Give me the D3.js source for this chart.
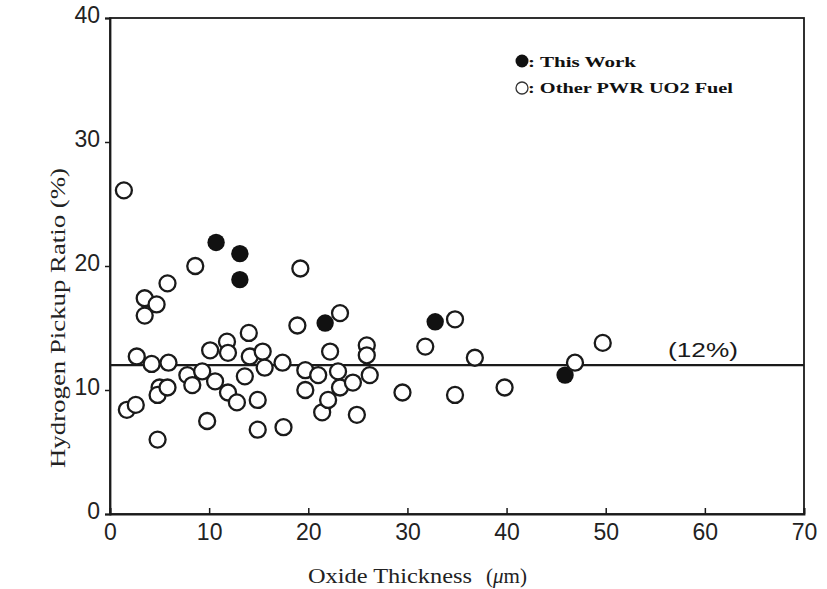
<!DOCTYPE html>
<html><head><meta charset="utf-8">
<script src="https://cdn.jsdelivr.net/npm/d3@7"></script>
<style>body{margin:0;background:#fff}</style>
</head><body>
<script>
const xTicks = [0,10,20,30,40,50,60,70];
const yTicks = [0,10,20,30,40];
const refLine = 12;
const refLabel = "(12%)";
const thisWorkX = [10.7,13.1,13.1,21.7,32.8,45.9];
const thisWorkY = [21.9,21.0,18.9,15.4,15.5,11.2];
const otherX = [1.4,8.6,3.5,4.7,3.5,5.8,2.7,4.2,5.9,1.7,2.6,5.0,4.8,5.8,4.8,7.8,8.3,9.3,10.1,9.8,11.8,11.9,10.6,11.9,12.8,14.0,14.1,13.6,15.4,15.6,14.9,14.9,17.4,17.5,18.9,19.2,19.7,19.7,21.0,21.4,22.2,22.0,23.0,23.2,23.2,24.5,24.9,25.9,25.9,26.2,29.5,31.8,34.8,34.8,36.8,39.8,46.9,49.7];
const otherY = [26.1,20.0,17.4,16.9,16.0,18.6,12.7,12.1,12.2,8.4,8.8,10.2,9.6,10.2,6.0,11.2,10.4,11.5,13.2,7.5,13.9,13.0,10.7,9.8,9.0,14.6,12.7,11.1,13.1,11.8,9.2,6.8,12.2,7.0,15.2,19.8,11.6,10.0,11.2,8.2,13.1,9.2,11.5,16.2,10.2,10.6,8.0,13.6,12.8,11.2,9.8,13.5,9.6,15.7,12.6,10.2,12.2,13.8];
const legendLabels = [": This Work", ": Other PWR UO2 Fuel"];
const xTitle = "Oxide Thickness";
const yTitle = "Hydrogen Pickup Ratio (%)";

const W = 827, H = 589;
const svg = d3.select("body").append("svg").attr("width", W).attr("height", H);
const x = d3.scaleLinear().domain([0,70]).range([110,804]);
const y = d3.scaleLinear().domain([0,40]).range([514,18]);
const ink = "#1a1a1a";
const serif = "Liberation Serif, Times New Roman, serif";
const sans = "Liberation Sans, Arial, sans-serif";

// frame
svg.append("rect").attr("x",110).attr("y",18).attr("width",694).attr("height",496)
  .attr("fill","none").attr("stroke",ink).attr("stroke-width",1.8);

// axes
const xAxis = svg.append("g").attr("transform","translate(0,514)")
  .call(d3.axisBottom(x).tickValues(xTicks).tickSize(-6).tickPadding(12).tickFormat(d3.format("d")));
const yAxis = svg.append("g").attr("transform","translate(110,0)")
  .call(d3.axisLeft(y).tickValues(yTicks).tickSize(5).tickPadding(5).tickFormat(d3.format("d")));
[xAxis,yAxis].forEach(g=>{
  g.select(".domain").attr("stroke",ink).attr("stroke-width",1.8);
  g.selectAll(".tick line").attr("stroke",ink).attr("stroke-width",1.5);
  g.selectAll(".tick text").attr("fill","#222").attr("font-family",sans).attr("font-size",23);
});
xAxis.selectAll(".tick text").attr("dy","0.6em");
yAxis.selectAll(".tick text").attr("dy","0.2em");

// reference line
svg.append("line").attr("x1",x(0)).attr("x2",x(70)).attr("y1",y(refLine)).attr("y2",y(refLine))
  .attr("stroke",ink).attr("stroke-width",2.2);
svg.append("text").attr("x",668).attr("y",357)
  .attr("font-family",sans).attr("font-size",21).attr("fill","#1a1a1a")
  .attr("textLength",70).attr("lengthAdjust","spacingAndGlyphs")
  .text(refLabel);

// points
const tw = d3.range(thisWorkX.length).map(i=>({x:thisWorkX[i],y:thisWorkY[i]}));
const ot = d3.range(otherX.length).map(i=>({x:otherX[i],y:otherY[i]}));
svg.append("g").selectAll("circle").data(tw).join("circle")
  .attr("cx",d=>x(d.x)).attr("cy",d=>y(d.y)).attr("r",8.7).attr("fill","#111");
svg.append("g").selectAll("circle").data(ot).join("circle")
  .attr("cx",d=>x(d.x)).attr("cy",d=>y(d.y)).attr("r",8)
  .attr("fill","#fff").attr("stroke","#1a1a1a").attr("stroke-width",2.3);

// legend
svg.append("circle").attr("cx",522).attr("cy",61).attr("r",6.5).attr("fill","#111");
svg.append("circle").attr("cx",522).attr("cy",88).attr("r",6).attr("fill","#fff").attr("stroke","#333").attr("stroke-width",1.3);
legendLabels.forEach((t,i)=>{
  svg.append("text").attr("x",528).attr("y",67+i*26)
    .attr("font-family",serif).attr("font-weight","bold")
    .attr("font-size",15).attr("fill","#111")
    .attr("textLength", i===0?108:205).attr("lengthAdjust","spacingAndGlyphs")
    .text(t);
});

// axis titles
svg.append("text").attr("x",308).attr("y",583)
  .attr("font-family",serif).attr("font-size",21).attr("fill","#222")
  .attr("textLength",164).attr("lengthAdjust","spacingAndGlyphs")
  .text(xTitle);
const xt2 = svg.append("text").attr("x",486).attr("y",583)
  .attr("font-family",serif).attr("font-size",21).attr("fill","#222");
xt2.append("tspan").text("(");
xt2.append("tspan").attr("font-style","italic").text("\u03bc");
xt2.append("tspan").text("m)");
svg.append("text").attr("transform","translate(65,318) rotate(-90)").attr("text-anchor","middle")
  .attr("font-family",serif).attr("font-size",22).attr("fill","#222")
  .attr("textLength",300).attr("lengthAdjust","spacingAndGlyphs")
  .text(yTitle);
</script>
</body></html>
